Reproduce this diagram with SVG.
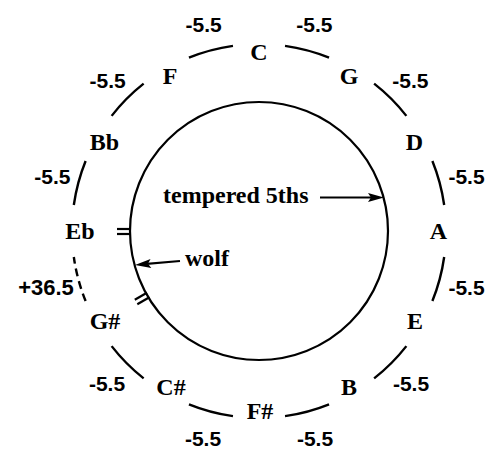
<svg xmlns="http://www.w3.org/2000/svg" width="496" height="450" viewBox="0 0 496 450">
<style>
.note{font-family:"Liberation Serif","Times New Roman",serif;font-weight:bold;font-size:24px;text-anchor:middle;fill:#000}
.lbl{font-family:"Liberation Serif","Times New Roman",serif;font-weight:bold;font-size:24px;fill:#000}
.num{font-family:"Liberation Sans",Arial,sans-serif;font-weight:bold;font-size:21px;text-anchor:middle;fill:#000}
.arc{fill:none;stroke:#000;stroke-width:2.4}
.dash{stroke-dasharray:8 5}
.line{fill:none;stroke:#000;stroke-width:2.2}
</style>
<defs>
<marker id="ah" markerUnits="userSpaceOnUse" markerWidth="18" markerHeight="10" viewBox="0 0 18 10" refX="11" refY="5" orient="auto">
<path d="M1,0.5 L17,5 L1,9.5 L4,5 z" fill="#000"/>
</marker>
</defs>
<rect width="496" height="450" fill="#fff"/>
<g id="inner-circle">
<circle cx="259" cy="231" r="129" class="line"/>
<line x1="117" y1="229" x2="131" y2="229" class="line"/>
<line x1="117" y1="234" x2="131" y2="234" class="line"/>
<line x1="149.4" y1="297.2" x2="137.3" y2="304.2" class="line"/>
<line x1="146.9" y1="292.8" x2="134.8" y2="299.8" class="line"/>
</g>
<g id="connectors">
<path class="arc" d="M285.03,45.82 A187,187 0 0 1 329.05,57.62"/>
<path class="arc" d="M374.13,83.64 A187,187 0 0 1 406.36,115.87"/>
<path class="arc" d="M432.38,160.95 A187,187 0 0 1 444.18,204.97"/>
<path class="arc" d="M444.18,257.03 A187,187 0 0 1 432.38,301.05"/>
<path class="arc" d="M406.36,346.13 A187,187 0 0 1 374.13,378.36"/>
<path class="arc" d="M329.05,404.38 A187,187 0 0 1 285.03,416.18"/>
<path class="arc" d="M232.97,416.18 A187,187 0 0 1 188.95,404.38"/>
<path class="arc" d="M143.64,378.36 A187,187 0 0 1 111.64,346.13"/>
<path class="arc dash" d="M85.62,301.05 A187,187 0 0 1 73.82,257.03"/>
<path class="arc" d="M73.82,204.97 A187,187 0 0 1 85.62,160.95"/>
<path class="arc" d="M111.64,115.87 A187,187 0 0 1 143.64,83.64"/>
<path class="arc" d="M188.95,57.62 A187,187 0 0 1 232.97,45.82"/>
<line x1="320" y1="197.5" x2="378" y2="197.5" class="line" marker-end="url(#ah)"/>
<line x1="180" y1="261" x2="140.98" y2="264.47" class="line" marker-end="url(#ah)"/>
</g>
<g id="intervals">
<text class="num" x="314.4" y="32.3">-5.5</text>
<text class="num" x="410.3" y="87.7">-5.5</text>
<text class="num" x="466.5" y="184">-5.5</text>
<text class="num" x="466.5" y="295">-5.5</text>
<text class="num" x="411" y="391">-5.5</text>
<text class="num" x="315" y="446">-5.5</text>
<text class="num" x="203" y="446">-5.5</text>
<text class="num" x="107" y="391">-5.5</text>
<text class="num" x="46" y="295" style="font-size:22px">+36.5</text>
<text class="num" x="52.3" y="183.6">-5.5</text>
<text class="num" x="107.7" y="87.7">-5.5</text>
<text class="num" x="203.6" y="32.3">-5.5</text>
</g>
<g id="node-C"><text class="note" x="259" y="60">C</text></g>
<g id="node-G"><text class="note" x="349" y="84">G</text></g>
<g id="node-D"><text class="note" x="414.5" y="149.5">D</text></g>
<g id="node-A"><text class="note" x="438.5" y="239">A</text></g>
<g id="node-E"><text class="note" x="415" y="329">E</text></g>
<g id="node-B"><text class="note" x="349" y="394.5">B</text></g>
<g id="node-Fsharp"><text class="note" x="260" y="419">F#</text></g>
<g id="node-Csharp"><text class="note" x="171" y="394.5">C#</text></g>
<g id="node-Gsharp"><text class="note" x="105" y="329">G#</text></g>
<g id="node-Eb"><text class="note" x="80" y="239">Eb</text></g>
<g id="node-Bb"><text class="note" x="104.5" y="149.5">Bb</text></g>
<g id="node-F"><text class="note" x="170" y="84">F</text></g>
<g id="annotations">
<text class="lbl" x="163" y="203">tempered 5ths</text>
<text class="lbl" x="185" y="266">wolf</text>
</g>
</svg>
